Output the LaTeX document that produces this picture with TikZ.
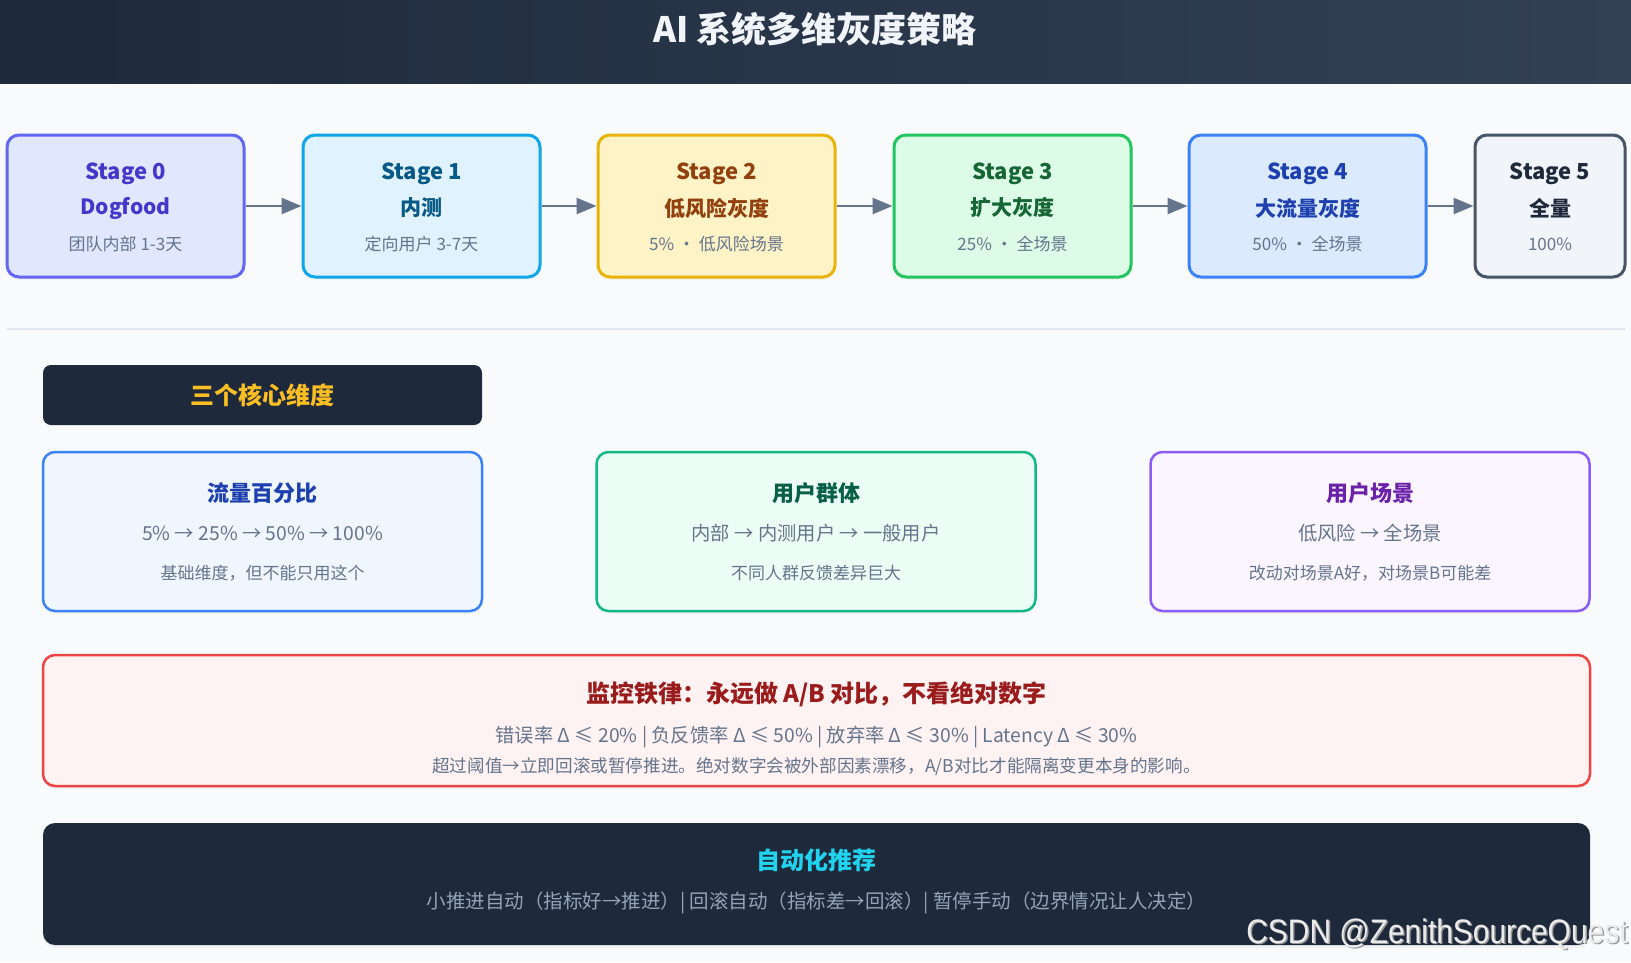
\documentclass[tikz,border=0pt]{standalone}
\usepackage{fontspec}
\setmainfont{Noto Sans CJK SC}
\newfontfamily\wmfont{Liberation Sans}
\usetikzlibrary{arrows.meta,shadows}
\definecolor{bg}{HTML}{F8FAFC}
\definecolor{hdrL}{HTML}{1E293B}
\definecolor{hdrR}{HTML}{334155}
\definecolor{ttl}{HTML}{F1F5F9}
\definecolor{sub}{HTML}{64748B}
\definecolor{sepc}{HTML}{E2E8F0}
\definecolor{dark}{HTML}{1E293B}
\definecolor{amber}{HTML}{FBBF24}
\definecolor{cyanT}{HTML}{22D3EE}
\definecolor{lightT}{HTML}{94A3B8}
% stages
\definecolor{s0b}{HTML}{6366F1}\definecolor{s0f}{HTML}{E0E7FF}\definecolor{s0t}{HTML}{4338CA}
\definecolor{s1b}{HTML}{0EA5E9}\definecolor{s1f}{HTML}{E0F2FE}\definecolor{s1t}{HTML}{075985}
\definecolor{s2b}{HTML}{EAB308}\definecolor{s2f}{HTML}{FEF3C7}\definecolor{s2t}{HTML}{92400E}
\definecolor{s3b}{HTML}{22C55E}\definecolor{s3f}{HTML}{DCFCE7}\definecolor{s3t}{HTML}{166534}
\definecolor{s4b}{HTML}{3B82F6}\definecolor{s4f}{HTML}{DBEAFE}\definecolor{s4t}{HTML}{1E40AF}
\definecolor{s5b}{HTML}{475569}\definecolor{s5f}{HTML}{F1F5F9}\definecolor{s5t}{HTML}{1E293B}
% dimensions
\definecolor{d1b}{HTML}{3B82F6}\definecolor{d1f}{HTML}{EFF6FF}\definecolor{d1t}{HTML}{1E40AF}
\definecolor{d2b}{HTML}{10B981}\definecolor{d2f}{HTML}{ECFDF5}\definecolor{d2t}{HTML}{065F46}
\definecolor{d3b}{HTML}{8B5CF6}\definecolor{d3f}{HTML}{FAF5FF}\definecolor{d3t}{HTML}{6B21A8}
\definecolor{rb}{HTML}{EF4444}\definecolor{rf}{HTML}{FEF2F2}\definecolor{rt}{HTML}{991B1B}
\tikzset{
  softshadow/.style={drop shadow={opacity=0.06,shadow xshift=0pt,shadow yshift=-3pt}},
  stagebox/.style={draw, line width=3pt, rounded corners=12pt, minimum height=142pt, softshadow},
  dimbox/.style={draw, line width=2.5pt, rounded corners=12pt, minimum width=439pt, minimum height=159pt, softshadow},
  wide/.style={rounded corners=12pt, minimum width=1547pt},
  stitle/.style={font=\fontsize{22}{26}\selectfont\bfseries},
  ssub/.style={font=\fontsize{21}{25}\selectfont\bfseries},
  sinfo/.style={font=\fontsize{17}{20}\selectfont, text=sub},
  dtitle/.style={font=\fontsize{22}{26}\selectfont\bfseries},
  dline/.style={font=\fontsize{19.3}{23}\selectfont, text=sub},
  dnote/.style={font=\fontsize{17}{20}\selectfont, text=sub},
  flow/.style={draw=sub, line width=2.5pt, -{Triangle[length=20pt,width=16pt]}},
}
\begin{document}
\begin{tikzpicture}[x=1pt,y=-1pt]
\useasboundingbox (0,0) rectangle (1631,962);
\fill[bg] (0,0) rectangle (1631,962);
% header
\shade[left color=hdrL, right color=hdrR] (0,0) rectangle (1631,83);
\node[font=\fontsize{35}{40}\selectfont\bfseries, text=ttl] (title) at (815,29) {AI 系统多维灰度策略};

% stages
\node[stagebox, draw=s0b, fill=s0f, minimum width=237pt] (st0) at (125.5,206) {};
\node[stagebox, draw=s1b, fill=s1f, minimum width=237pt] (st1) at (421.5,206) {};
\node[stagebox, draw=s2b, fill=s2f, minimum width=237pt] (st2) at (716.5,206) {};
\node[stagebox, draw=s3b, fill=s3f, minimum width=237pt] (st3) at (1012.5,206) {};
\node[stagebox, draw=s4b, fill=s4f, minimum width=237pt] (st4) at (1307.5,206) {};
\node[stagebox, draw=s5b, fill=s5f, minimum width=150pt] (st5) at (1550,206) {};

\node[stitle, text=s0t] (st0a) at (125.5,174) {Stage 0};
\node[ssub, text=s0t] (st0b) at (125.5,208) {Dogfood};
\node[sinfo] (st0c) at (125.5,244) {团队内部 1-3天};

\node[stitle, text=s1t] (st1a) at (421.5,174) {Stage 1};
\node[ssub, text=s1t] (st1b) at (421.5,208) {内测};
\node[sinfo] (st1c) at (421.5,244) {定向用户 3-7天};

\node[stitle, text=s2t] (st2a) at (716.5,174) {Stage 2};
\node[ssub, text=s2t] (st2b) at (716.5,208) {低风险灰度};
\node[sinfo] (st2c) at (716.5,244) {5\% · 低风险场景};

\node[stitle, text=s3t] (st3a) at (1012.5,174) {Stage 3};
\node[ssub, text=s3t] (st3b) at (1012.5,208) {扩大灰度};
\node[sinfo] (st3c) at (1012.5,244) {25\% · 全场景};

\node[stitle, text=s4t] (st4a) at (1307.5,174) {Stage 4};
\node[ssub, text=s4t] (st4b) at (1307.5,208) {大流量灰度};
\node[sinfo] (st4c) at (1307.5,244) {50\% · 全场景};

\node[stitle, text=s5t] (st5a) at (1550,174) {Stage 5};
\node[ssub, text=s5t] (st5b) at (1550,208) {全量};
\node[sinfo] (st5c) at (1550,244) {100\%};

\draw[flow] (st0) -- (st1);
\draw[flow] (st1) -- (st2);
\draw[flow] (st2) -- (st3);
\draw[flow] (st3) -- (st4);
\draw[flow] (st4) -- (st5);

% separator
\coordinate (sepL) at (7,329);
\coordinate (sepR) at (1625,329);
\draw[sepc, line width=2pt] (sepL) -- (sepR);

% core label
\node[fill=dark, rounded corners=8pt, minimum width=439pt, minimum height=60pt,
      font=\fontsize{24}{28}\selectfont\bfseries, text=amber] (core) at (262.5,395) {三个核心维度};

% dimension boxes
\node[dimbox, draw=d1b, fill=d1f] (dim1) at (262.5,531.5) {};
\node[dtitle, text=d1t] (dim1a) at (262.5,493) {流量百分比};
\node[dline] (dim1b) at (262.5,533) {5\% → 25\% → 50\% → 100\%};
\node[dnote] (dim1c) at (262.5,573) {基础维度，但不能只用这个};

\node[dimbox, draw=d2b, fill=d2f] (dim2) at (816,531.5) {};
\node[dtitle, text=d2t] (dim2a) at (816,493) {用户群体};
\node[dline] (dim2b) at (816,533) {内部 → 内测用户 → 一般用户};
\node[dnote] (dim2c) at (816,573) {不同人群反馈差异巨大};

\node[dimbox, draw=d3b, fill=d3f] (dim3) at (1370,531.5) {};
\node[dtitle, text=d3t] (dim3a) at (1370,493) {用户场景};
\node[dline] (dim3b) at (1370,533) {低风险 → 全场景};
\node[dnote] (dim3c) at (1370,573) {改动对场景A好，对场景B可能差};

% monitoring rule
\node[wide, draw=rb, fill=rf, line width=2.5pt, minimum height=131pt, softshadow] (rule) at (816.5,720.5) {};
\node[font=\fontsize{24}{28}\selectfont\bfseries, text=rt] (rulea) at (816.5,694) {监控铁律：永远做 A/B 对比，不看绝对数字};
\node[dline] (ruleb) at (816.5,737) {错误率 Δ ≤ 20\% | 负反馈率 Δ ≤ 50\% | 放弃率 Δ ≤ 30\% | Latency Δ ≤ 30\%};
\node[font=\fontsize{17.6}{21}\selectfont, text=sub] (rulec) at (816.5,767) {超过阈值→立即回滚或暂停推进。绝对数字会被外部因素漂移，A/B对比才能隔离变更本身的影响。};

% automation
\node[wide, fill=dark, minimum height=122pt, softshadow] (auto) at (816.5,884) {};
\node[font=\fontsize{24}{28}\selectfont\bfseries, text=cyanT] (autoa) at (816.5,860) {自动化推荐};
\node[font=\fontsize{19.5}{23}\selectfont, text=lightT] (autob) at (816.5,903) {小推进自动（指标好→推进）| 回滚自动（指标差→回滚）| 暂停手动（边界情况让人决定）};

% watermark
\node[font=\wmfont\fontsize{34}{38}\selectfont, text=black!40, xscale=0.88] (wm0) at (1438.5,935.5) {CSDN @ZenithSourceQuest};
\node[font=\wmfont\fontsize{34}{38}\selectfont, text=white!92!black, xscale=0.88] (wm) at (1437,934) {CSDN @ZenithSourceQuest};
\end{tikzpicture}
\end{document}
